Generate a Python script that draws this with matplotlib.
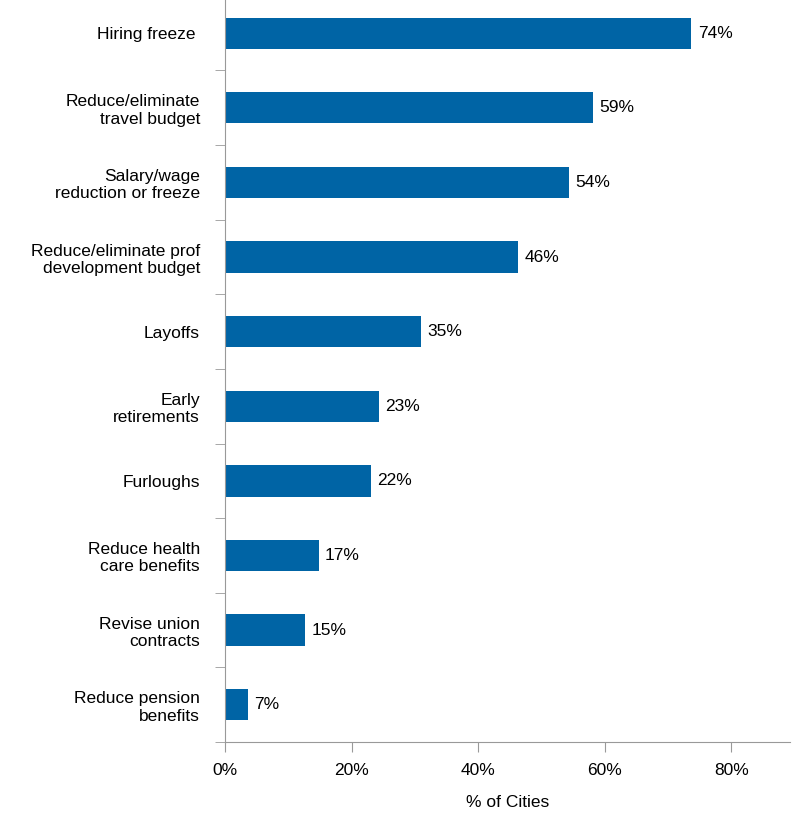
import matplotlib
matplotlib.use("Agg")
import matplotlib.pyplot as plt
import numpy as np

categories = ["Hiring freeze ", "Reduce/eliminate\ntravel budget", "Salary/wage\nreduction or freeze",
              "Reduce/eliminate prof\ndevelopment budget", "Layoffs", "Early\nretirements", "Furloughs",
              "Reduce health\ncare benefits", "Revise union\ncontracts", "Reduce pension\nbenefits"]
values = [74, 59, 54, 46, 35, 23, 22, 17, 15, 7]
bar_ends = [73.7, 58.1, 54.3, 46.3, 30.9, 24.3, 23.0, 14.8, 12.7, 3.6]

plt.rcParams['font.family'] = ['Liberation Sans', 'DejaVu Sans']
fig = plt.figure(figsize=(7.92, 8.24), dpi=100)
ax = fig.add_axes([0.284, 0.0995, 0.713, 0.9055])

y = np.arange(len(categories))
ax.barh(y, bar_ends, height=0.42, color="#0064A5")
for yi, w, v in zip(y, bar_ends, values):
    ax.text(w + 1, yi, f"{v}%", va="center", ha="left", fontsize=12.5)

ax.set_ylim(len(categories) - 0.5, -0.5)
ax.set_xlim(0, 89.2)
ax.set_yticks(y)
ax.set_yticklabels(categories, fontsize=12.5, ha="right")
ax.set_yticks(np.arange(-0.5, len(categories), 1), minor=True)
ax.tick_params(axis="y", which="major", length=0, pad=18)
ax.tick_params(axis="y", which="minor", length=7, color="#999999")
ax.set_xticks([0, 20, 40, 60, 80])
ax.set_xticklabels(["0%", "20%", "40%", "60%", "80%"], fontsize=12.5)
ax.tick_params(axis="x", length=7, color="#999999", pad=8)
ax.set_xlabel("% of Cities", fontsize=12.5, labelpad=12)
for s in ["top", "right"]:
    ax.spines[s].set_visible(False)
for s in ["left", "bottom"]:
    ax.spines[s].set_color("#999999")

fig.savefig("out.png", dpi=100)
